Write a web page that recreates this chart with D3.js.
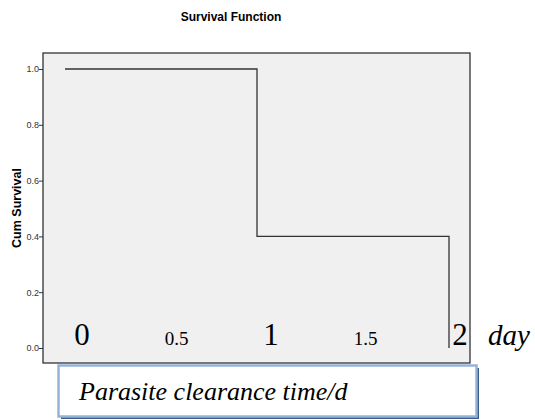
<!DOCTYPE html>
<html lang="en">
<head>
    <meta charset="UTF-8">
    <title>Survival Function</title>
    <script src="https://d3js.org/d3.v7.min.js"></script>
    <style>
        body { margin: 0; background: #fff; }
    </style>
</head>
<body>
    <svg id="chart" width="535" height="420"></svg>

    <script>
        // survival estimate (step function)
        const times = [0, 1, 2];
        const survival = [1.0, 0.4, 0.0];
        const yTicks = [0.0, 0.2, 0.4, 0.6, 0.8, 1.0];
        // hand-placed overlay labels for the time axis
        const dayLabels = [0, 0.5, 1, 1.5, 2];
        const dayLabelText = ["0", "0.5", "1", "1.5", "2"];

        const svg = d3.select("#chart");

        const frame = { left: 43, top: 53, right: 470, bottom: 363 };

        const x = d3.scaleLinear().domain([0, 2]).range([65, 449]);
        const y = d3.scaleLinear().domain([0, 1]).range([348, 69]);
        // the labels were placed slightly right of the data positions
        const xLabel = d3.scaleLinear().domain([0, 2]).range([82, 460]);

        svg.append("text")
            .attr("x", 231)
            .attr("y", 21)
            .attr("text-anchor", "middle")
            .style("font-family", "Liberation Sans, Arial, sans-serif")
            .style("font-size", "12px")
            .style("font-weight", "bold")
            .text("Survival Function");

        svg.append("rect")
            .attr("x", frame.left)
            .attr("y", frame.top)
            .attr("width", frame.right - frame.left)
            .attr("height", frame.bottom - frame.top)
            .attr("fill", "#f0f0f0")
            .attr("stroke", "#222")
            .attr("stroke-width", 1.2);

        const yAxis = svg.append("g")
            .attr("transform", `translate(${frame.left},0)`)
            .call(d3.axisLeft(y).tickValues(yTicks).tickSize(4).tickFormat(d3.format(".1f")));
        yAxis.select(".domain").remove();
        yAxis.selectAll("line").attr("stroke", "#333");
        yAxis.selectAll("text")
            .attr("x", -4)
            .style("font-family", "Liberation Sans, Arial, sans-serif")
            .style("font-size", "9px")
            .attr("fill", "#333");

        svg.append("text")
            .attr("transform", "translate(21,208)rotate(-90)")
            .attr("text-anchor", "middle")
            .style("font-family", "Liberation Sans, Arial, sans-serif")
            .style("font-size", "12.5px")
            .style("font-weight", "bold")
            .text("Cum Survival");

        const points = times.map((t, i) => [t, survival[i]]);
        const line = d3.line()
            .x(d => x(d[0]))
            .y(d => y(d[1]))
            .curve(d3.curveStepAfter);

        svg.append("path")
            .datum(points)
            .attr("d", line)
            .attr("fill", "none")
            .attr("stroke", "#333")
            .attr("stroke-width", 1.3);

        svg.append("g")
            .selectAll("text")
            .data(dayLabels)
            .enter()
            .append("text")
            .attr("x", d => xLabel(d))
            .attr("y", 345)
            .attr("text-anchor", "middle")
            .style("font-family", "Liberation Serif, Times New Roman, serif")
            .style("font-size", (d, i) => (d % 1 === 0 ? "31px" : "19px"))
            .text((d, i) => dayLabelText[i]);

        svg.append("text")
            .attr("x", 488)
            .attr("y", 345)
            .style("font-family", "Liberation Serif, Times New Roman, serif")
            .style("font-size", "29px")
            .style("font-style", "italic")
            .text("day");

        // caption box with shadow
        svg.append("rect")
            .attr("x", 61)
            .attr("y", 368)
            .attr("width", 418)
            .attr("height", 51)
            .attr("fill", "#385d8a");
        svg.append("rect")
            .attr("x", 58.5)
            .attr("y", 365.5)
            .attr("width", 418)
            .attr("height", 51)
            .attr("fill", "#fff")
            .attr("stroke", "#95b3d7")
            .attr("stroke-width", 2.5);

        svg.append("text")
            .attr("x", 79)
            .attr("y", 400)
            .style("font-family", "Liberation Serif, Times New Roman, serif")
            .style("font-size", "26px")
            .style("font-style", "italic")
            .text("Parasite clearance time/d");
    </script>
</body>
</html>
